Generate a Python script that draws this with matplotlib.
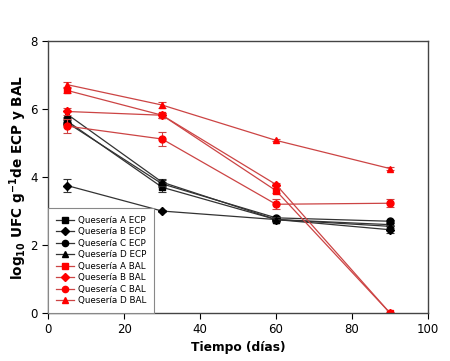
import matplotlib
matplotlib.use("Agg")
import matplotlib.pyplot as plt

dias = [5, 30, 60, 90]

# ECP (black)
ecp_a = [5.65, 3.70, 2.75, 2.60]
ecp_b = [3.75, 3.00, 2.75, 2.45]
ecp_c = [5.60, 3.80, 2.80, 2.70]
ecp_d = [5.85, 3.85, 2.75, 2.55]
ecp_a_err = [0.08, 0.15, 0.05, 0.05]
ecp_b_err = [0.20, 0.03, 0.05, 0.10]
ecp_c_err = [0.08, 0.10, 0.05, 0.05]
ecp_d_err = [0.08, 0.10, 0.08, 0.05]

# BAL (red)
bal_a = [6.55, 5.82, 3.60, 0.0]
bal_b = [5.93, 5.82, 3.78, 0.0]
bal_c = [5.50, 5.12, 3.20, 3.23]
bal_d = [6.72, 6.12, 5.08, 4.25]
bal_a_err = [0.08, 0.08, 0.08, 0.0]
bal_b_err = [0.10, 0.08, 0.05, 0.0]
bal_c_err = [0.20, 0.22, 0.15, 0.12]
bal_d_err = [0.08, 0.08, 0.03, 0.05]

labels = ["Quesería A ECP", "Quesería B ECP", "Quesería C ECP", "Quesería D ECP",
          "Quesería A BAL", "Quesería B BAL", "Quesería C BAL", "Quesería D BAL"]

fig = plt.figure(figsize=(4.5, 3.61), dpi=100)
ax = fig.add_axes([0.107, 0.133, 0.844, 0.753])

series = [
    (ecp_a, ecp_a_err, "s", "black", "#333333"),
    (ecp_b, ecp_b_err, "D", "black", "#333333"),
    (ecp_c, ecp_c_err, "o", "black", "#333333"),
    (ecp_d, ecp_d_err, "^", "black", "#333333"),
    (bal_a, bal_a_err, "s", "red", "#cc4444"),
    (bal_b, bal_b_err, "D", "red", "#cc4444"),
    (bal_c, bal_c_err, "o", "red", "#cc4444"),
    (bal_d, bal_d_err, "^", "red", "#cc4444"),
]

handles = []
for (vals, err, mk, mc, lc), lab in zip(series, labels):
    ms = 4 if mk == "D" else 5
    ax.errorbar(dias, vals, yerr=err, fmt="none", ecolor=lc, elinewidth=0.8,
                capsize=3, capthick=0.8)
    ln, = ax.plot(dias, vals, marker=mk, color=lc, mfc=mc, mec=mc, ms=ms,
                  lw=0.9, label=lab)
    handles.append(ln)

ax.set_xlim(0, 100)
ax.set_ylim(0, 8)
ax.set_xticks([0, 20, 40, 60, 80, 100])
ax.set_yticks([0, 2, 4, 6, 8])
ax.tick_params(direction="out", length=4, labelsize=8.5, top=False, right=False)
for s in ax.spines.values():
    s.set_color("#444444")
    s.set_linewidth(1.0)

ax.set_xlabel("Tiempo (días)", fontsize=8.8, fontweight="bold", labelpad=3)
ax.set_ylabel(r"log$_{\mathbf{10}}$ UFC g$^{\mathbf{-1}}$de ECP y BAL",
              fontsize=9.8, fontweight="bold", labelpad=1)

leg = ax.legend(handles=handles, loc="lower left", fontsize=6.3, borderaxespad=0,
                fancybox=False, framealpha=1, edgecolor="#888888",
                handlelength=2.0, labelspacing=0.28, borderpad=0.9,
                handletextpad=0.5, markerscale=0.9)
leg.get_frame().set_linewidth(0.8)

fig.savefig("out.png", dpi=100)
